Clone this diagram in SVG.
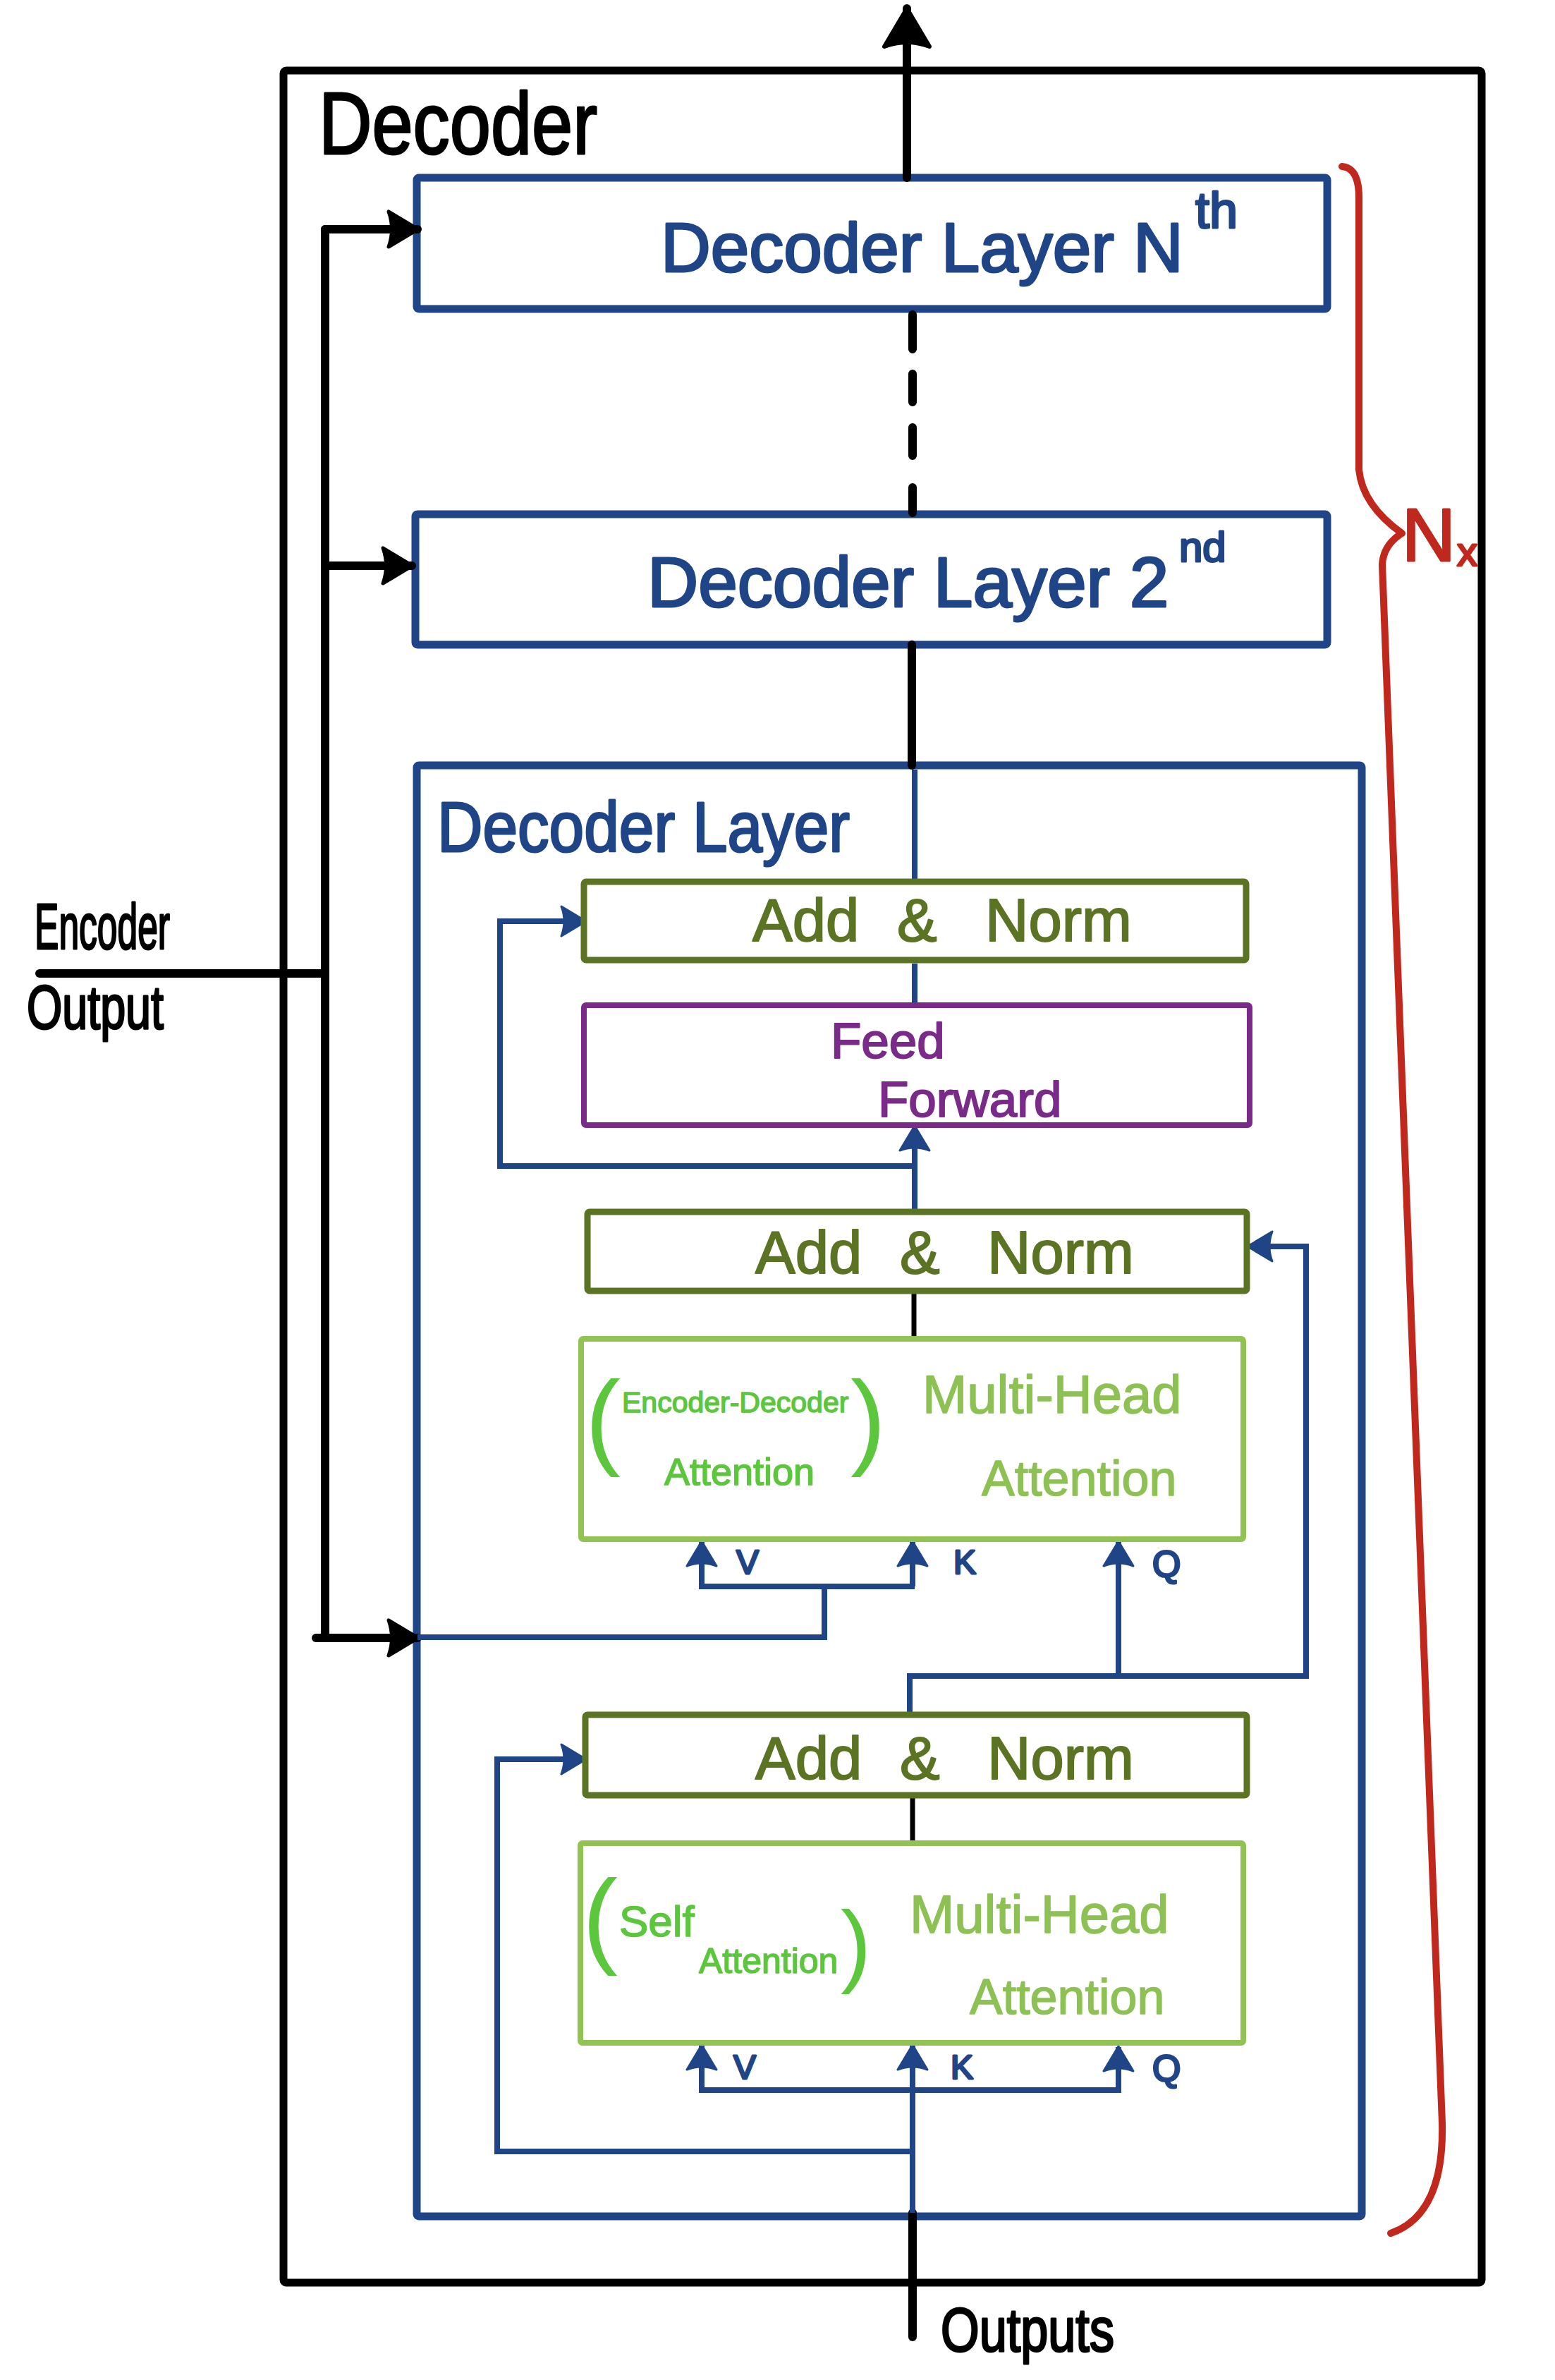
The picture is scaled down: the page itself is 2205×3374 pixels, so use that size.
<svg xmlns="http://www.w3.org/2000/svg" width="2205" height="3374" viewBox="0 0 2205 3374">
<style>
  .t { font-family: "Liberation Sans", Arial, sans-serif; stroke-linejoin: round; }
  .tBlk { fill:#000; stroke:#000; stroke-width:3; }
  .tBlu { fill:#1F4587; stroke:#1F4587; stroke-width:3; }
  .tOl { fill:#5B7423; stroke:#5B7423; stroke-width:2; }
  .tPu { fill:#7A2A88; stroke:#7A2A88; stroke-width:2; }
  .tG1 { fill:#5CC63C; stroke:#5CC63C; stroke-width:1.5; }
  .tG2 { fill:#8EC154; stroke:#8EC154; stroke-width:1.5; }
  .par { fill:#5CC63C; stroke:none; }
  .tRed { fill:#C0281E; stroke:#C0281E; stroke-width:3; }
  .outer { fill:none; stroke:#000; stroke-width:11; }
  .layer { fill:none; stroke:#1F4587; stroke-width:11; }
  .norm { fill:#fff; stroke:#5B7423; stroke-width:9; }
  .ff { fill:#fff; stroke:#7A2A88; stroke-width:8; }
  .mha { fill:#fff; stroke:#92C352; stroke-width:8; }
  .cb { fill:none; stroke:#1F4587; stroke-width:8; stroke-linejoin:miter; }
  .ck { fill:none; stroke:#000; stroke-width:12; stroke-linecap:round; }
  .ckt { fill:none; stroke:#000; stroke-width:7; stroke-linecap:round; }
</style>
<defs>
  <marker id="ab" markerUnits="userSpaceOnUse" viewBox="0 0 38 46" refX="36" refY="23" markerWidth="38" markerHeight="46" orient="auto">
    <path d="M2,2 Q10,23 2,44 L37,23 Z" fill="#1F4587" stroke="#1F4587" stroke-width="3" stroke-linejoin="round"/>
  </marker>
  <marker id="ak" markerUnits="userSpaceOnUse" viewBox="0 0 46 56" refX="44" refY="28" markerWidth="46" markerHeight="56" orient="auto">
    <path d="M3,3 Q12,28 3,53 L45,28 Z" fill="#000" stroke="#000" stroke-width="5" stroke-linejoin="round"/>
  </marker>
  <marker id="akBig" markerUnits="userSpaceOnUse" viewBox="0 0 60 72" refX="58" refY="36" markerWidth="60" markerHeight="72" orient="auto">
    <path d="M4,4 Q16,36 4,68 L58,36 Z" fill="#000" stroke="#000" stroke-width="6" stroke-linejoin="round"/>
  </marker>
</defs>
<rect width="2205" height="3374" fill="#fff"/>

<g id="decoder-outer">
  <rect class="outer" x="402" y="100" width="1699" height="3136" rx="4"/>
  <text class="t tBlk" x="452" y="218" font-size="125" textLength="395" lengthAdjust="spacingAndGlyphs">Decoder</text>
</g>

<g id="layer-nth">
  <rect class="layer" x="591" y="252" width="1291" height="186" rx="3"/>
  <text class="t tBlu" x="937" y="385" font-size="98">Decoder Layer N</text>
  <text class="t tBlu" x="1695" y="323" font-size="72">th</text>
</g>

<g id="layer-2nd">
  <rect class="layer" x="589" y="729" width="1293" height="185" rx="3"/>
  <text class="t tBlu" x="918" y="860" font-size="100">Decoder Layer 2</text>
  <text class="t tBlu" x="1672" y="796" font-size="60">nd</text>
</g>

<g id="layer-detail">
  <rect class="layer" x="591" y="1085" width="1340" height="2057" rx="3"/>
  <text class="t tBlu" x="620" y="1207" font-size="100" textLength="585" lengthAdjust="spacingAndGlyphs">Decoder Layer</text>
</g>

<g id="encoder-output">
  <text class="t tBlk" x="49" y="1345" font-size="90" textLength="192" lengthAdjust="spacingAndGlyphs">Encoder</text>
  <text class="t tBlk" x="38" y="1458" font-size="88" textLength="194" lengthAdjust="spacingAndGlyphs">Output</text>
</g>

<g id="outputs-label">
  <text class="t tBlk" x="1334" y="3333" font-size="88" textLength="246" lengthAdjust="spacingAndGlyphs">Outputs</text>
</g>

<g id="nx-brace">
  <path d="M1903,236 Q1927,238 1927,280 L1927,666 Q1932,716 1988,756 Q1962,772 1960,800 L2045,3010 Q2048,3140 1972,3166" fill="none" stroke="#C0281E" stroke-width="10" stroke-linecap="round" stroke-linejoin="round"/>
  <text class="t tRed" x="1988" y="795" font-size="105">N</text>
  <text class="t tRed" x="2066" y="802" font-size="58">x</text>
</g>

<g id="connectors">
  <path class="ck" d="M1286,252 V12" marker-end="url(#akBig)"/>
  <path class="ck" d="M461,325 V2322"/>
  <path class="ck" d="M461,325 H592" marker-end="url(#ak)"/>
  <path class="ck" d="M461,802 H584" marker-end="url(#ak)"/>
  <path class="ck" d="M448,2322 H592" marker-end="url(#ak)"/>
  <path class="ck" d="M56,1380 H458"/>
  <path class="ck" d="M1294,446 V495 M1294,530 V570 M1294,606 V646 M1294,691 V727"/>
  <path class="ck" d="M1293,914 V1085"/>
  <path class="ckt" d="M1296,1834 V1898"/>
  <path class="ckt" d="M1294,2548 V2613"/>
  <path class="ck" d="M1294,3137 V3313"/>

  <path class="cb" d="M1297,1091 V1250"/>
  <path class="cb" d="M1297,1366 V1425"/>
  <path class="cb" d="M1297,1718 V1597" marker-end="url(#ab)"/>
  <path class="cb" d="M1297,1653 H709 V1306 H830" marker-end="url(#ab)"/>
  <path class="cb" d="M1290,2431 V2376 H1852 V1767 H1770" marker-end="url(#ab)"/>
  <path class="cb" d="M1586,2376 V2186" marker-end="url(#ab)"/>
  <path class="cb" d="M592,2321 H1169 V2249"/>
  <path class="cb" d="M1297,2249 H995 V2186" marker-end="url(#ab)"/>
  <path class="cb" d="M1294,2249 V2186" marker-end="url(#ab)"/>
  <path class="cb" d="M1294,3050 H705 V2494 H830" marker-end="url(#ab)"/>
  <path class="cb" d="M1294,3137 V2900" marker-end="url(#ab)"/>
  <path class="cb" d="M1294,2963 H995 V2900" marker-end="url(#ab)"/>
  <path class="cb" d="M1294,2963 H1586 V2902" marker-end="url(#ab)"/>
</g>

<g id="add-norm-top">
  <rect class="norm" x="828" y="1250" width="939" height="111" rx="3"/>
  <text class="t tOl" font-size="85" y="1334"><tspan x="1067">Add</tspan><tspan x="1272">&amp;</tspan><tspan x="1397">Norm</tspan></text>
</g>

<g id="feed-forward">
  <rect class="ff" x="828" y="1425" width="944" height="170" rx="3"/>
  <text class="t tPu" x="1178" y="1500" font-size="71">Feed</text>
  <text class="t tPu" x="1245" y="1583" font-size="71">Forward</text>
</g>

<g id="add-norm-mid">
  <rect class="norm" x="833" y="1718" width="935" height="112" rx="3"/>
  <text class="t tOl" font-size="85" y="1805"><tspan x="1071">Add</tspan><tspan x="1276">&amp;</tspan><tspan x="1400">Norm</tspan></text>
</g>

<g id="enc-dec-attention">
  <rect class="mha" x="824" y="1898" width="939" height="284" rx="3"/>
  <text class="t par" x="830" y="2063" font-size="150">(</text>
  <text class="t tG1" x="882" y="2002" font-size="41">Encoder-Decoder</text>
  <text class="t tG1" x="942" y="2105" font-size="54">Attention</text>
  <text class="t par" x="1206" y="2063" font-size="150">)</text>
  <text class="t tG2" x="1308" y="2003" font-size="76">Multi-Head</text>
  <text class="t tG2" x="1392" y="2120" font-size="70">Attention</text>
  <text class="t tBlu" x="1044" y="2231" font-size="48">V</text>
  <text class="t tBlu" x="1352" y="2231" font-size="48">K</text>
  <text class="t tBlu" x="1634" y="2235" font-size="52">Q</text>
</g>

<g id="add-norm-bottom">
  <rect class="norm" x="830" y="2431" width="938" height="114" rx="3"/>
  <text class="t tOl" font-size="85" y="2522"><tspan x="1071">Add</tspan><tspan x="1276">&amp;</tspan><tspan x="1400">Norm</tspan></text>
</g>

<g id="self-attention">
  <rect class="mha" x="823" y="2613" width="940" height="283" rx="3"/>
  <text class="t par" x="826" y="2770" font-size="150">(</text>
  <text class="t tG1" x="878" y="2745" font-size="62">Self</text>
  <text class="t tG1" x="991" y="2797" font-size="50">Attention</text>
  <text class="t par" x="1192" y="2800" font-size="130">)</text>
  <text class="t tG2" x="1290" y="2740" font-size="76">Multi-Head</text>
  <text class="t tG2" x="1375" y="2855" font-size="70">Attention</text>
  <text class="t tBlu" x="1040" y="2947" font-size="48">V</text>
  <text class="t tBlu" x="1348" y="2947" font-size="48">K</text>
  <text class="t tBlu" x="1634" y="2950" font-size="52">Q</text>
</g>
</svg>
